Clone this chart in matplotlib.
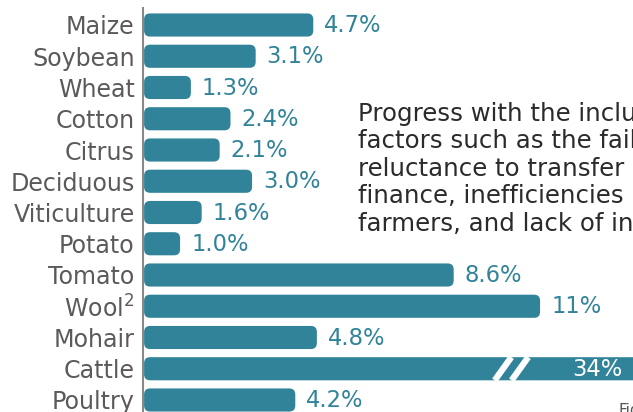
import matplotlib
matplotlib.use("Agg")
import matplotlib.pyplot as plt
from matplotlib.patches import FancyBboxPatch

categories = ["Maize", "Soybean", "Wheat", "Cotton", "Citrus", "Deciduous",
              "Viticulture", "Potato", "Tomato", "Wool$^{2}$", "Mohair", "Cattle", "Poultry"]
values = [4.7, 3.1, 1.3, 2.4, 2.1, 3.0, 1.6, 1.0, 8.6, 11, 4.8, 34, 4.2]
value_labels = ["4.7%", "3.1%", "1.3%", "2.4%", "2.1%", "3.0%", "1.6%", "1.0%",
                "8.6%", "11%", "4.8%", "34%", "4.2%"]

body_text = ("Progress with the inclusion of black farmers has been slow due to\n"
             "factors such as the failure of land reform, the\n"
             "reluctance to transfer land, lack of access to\n"
             "finance, inefficiencies in support to emerging\n"
             "farmers, and lack of infrastructure")

BAR = "#31839a"
LABEL = "#5a5a5a"
TEXT = "#2b2b2b"

plt.rcParams["mathtext.fontset"] = "dejavusans"

W, H = 633, 412
fig = plt.figure(figsize=(W / 100, H / 100), dpi=100)
ax_left, ax_top = 143, 8
ax = fig.add_axes([ax_left / W, 0, (W - ax_left) / W, (H - ax_top) / H])

px_per_unit = 36.0
row_px = 31.25
xmax = (W - ax_left) / px_per_unit
ax.set_xlim(0, xmax)
y_top = -(25 - ax_top) / row_px
y_bot = (H - 25) / row_px
ax.set_ylim(y_bot, y_top)

# broken axis: bars longer than visible range are capped
cap = xmax + 0.5
shown = [min(v, cap) for v in values]
ypos = list(range(len(categories)))
bars = ax.barh(ypos, shown, height=0.74, color=BAR, left=0.03)

r = 6 / px_per_unit
aspect = (6 / row_px) / r
for rect in list(bars):
    x, y = rect.get_x(), rect.get_y()
    w, h = rect.get_width(), rect.get_height()
    rect.remove()
    ax.add_patch(FancyBboxPatch((x, y), w, h,
                                boxstyle=f"round,pad=0,rounding_size={r}",
                                mutation_aspect=aspect, fc=BAR, ec="none",
                                zorder=2))

fs_val = 16.3
fs_cat = 17.1
for i, (v, s) in enumerate(zip(values, value_labels)):
    if v > cap:
        ax.text(xmax - 0.3, i + 0.02, s, ha="right", va="center", color="white",
                fontsize=fs_val, zorder=4)
        # break marks
        brk = 10.0
        for dx in (0.0, 0.47):
            ax.plot([brk + dx - 0.23, brk + dx + 0.23], [i + 0.37, i - 0.37],
                    color="white", lw=4.5, solid_capstyle="butt", zorder=3)
    else:
        ax.text(v + 0.03 + 11 / px_per_unit, i + 0.02, s, ha="left", va="center",
                color=BAR, fontsize=fs_val, zorder=4)

ax.set_yticks(ypos)
ax.set_yticklabels(categories, fontsize=fs_cat, color=LABEL)
ax.tick_params(axis="y", length=0, pad=6)
ax.set_xticks([])
for sp in ("top", "right", "bottom"):
    ax.spines[sp].set_visible(False)
ax.spines["left"].set_color("#8a8a8a")
ax.spines["left"].set_linewidth(1.5)
ax.patch.set_alpha(0)

fig.text(358 / W, 1 - 102 / H, body_text, ha="left", va="top", color=TEXT,
         fontsize=17.6, linespacing=1.18)
fig.text(619 / W, 1 - 403 / H, "Figure", ha="left", va="top", color="#555555",
         fontsize=11)

fig.savefig("out.png", dpi=100)
